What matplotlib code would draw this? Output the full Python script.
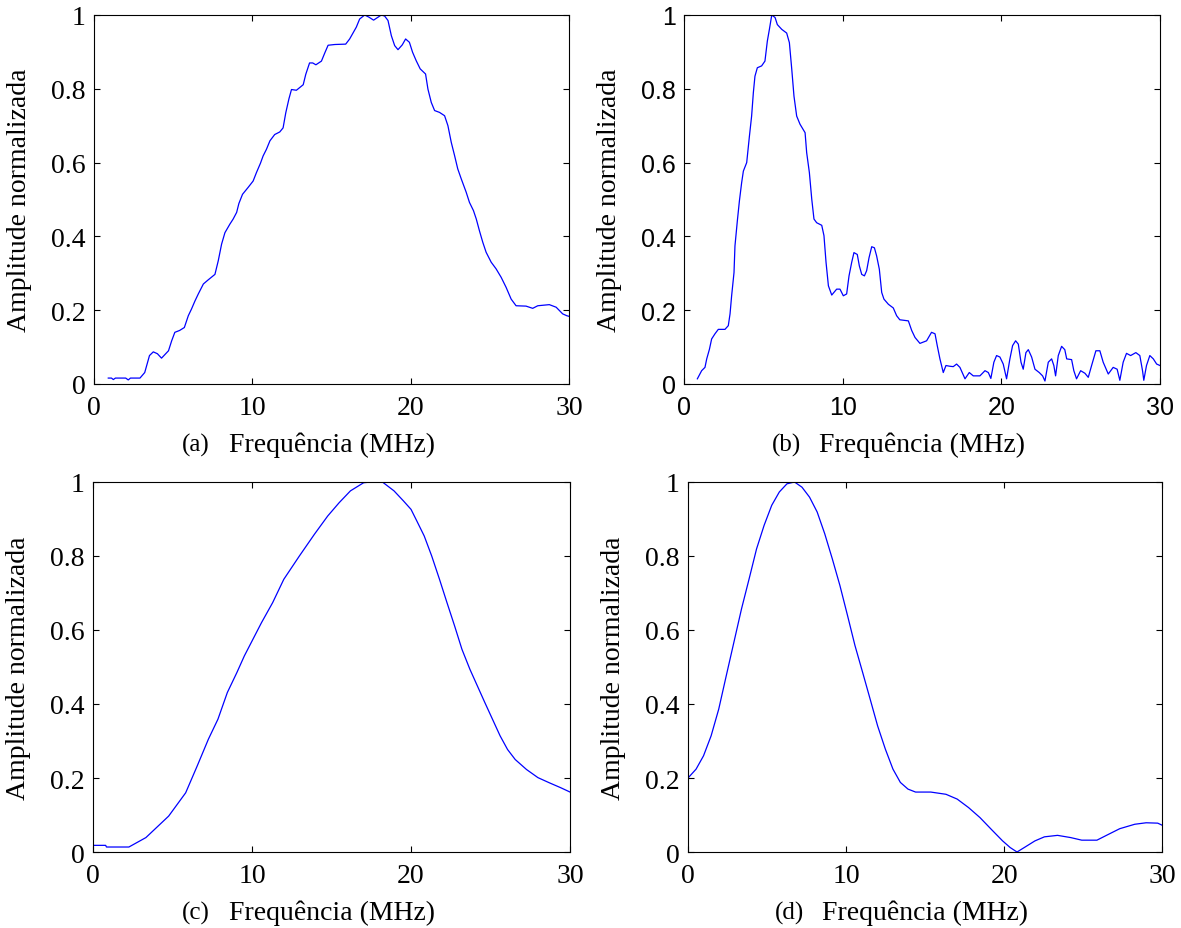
import numpy as np
import matplotlib.pyplot as plt

# (a) espectro medido
freq_a = [0.9, 1.1, 1.22, 1.35, 2.0, 2.16, 2.3, 2.9, 3.2, 3.5, 3.74, 4.0, 4.26, 4.7, 4.9, 5.1, 5.4, 5.7,
          5.95, 6.15, 6.37, 6.58, 6.9, 7.2, 7.63, 7.84, 8.05, 8.26, 8.57, 8.78, 9.0, 9.14, 9.37,
          9.73, 10.04, 10.25, 10.5, 10.67, 10.88, 11.1, 11.4, 11.72, 11.93, 12.1, 12.3, 12.46,
          12.77, 13.2, 13.36, 13.6, 13.8, 14.0, 14.35, 14.56, 14.77, 15.2, 15.88, 16.13, 16.34,
          16.55, 16.76, 17.08, 17.35, 17.64, 17.92, 18.13, 18.34, 18.55, 18.76, 18.97, 19.18,
          19.45, 19.66, 19.9, 20.1, 20.33, 20.58, 20.92, 21.07, 21.28, 21.49, 21.8, 22.12, 22.33,
          22.54, 22.75, 22.95, 23.17, 23.48, 23.69, 23.94, 24.12, 24.32, 24.53, 24.74, 25.06,
          25.37, 25.69, 26.0, 26.32, 26.63, 27.26, 27.68, 28.0, 28.73, 29.16, 29.57, 29.83, 30.0]
amp_a = [0.016, 0.016, 0.012, 0.016, 0.016, 0.011, 0.016, 0.016, 0.031, 0.077, 0.087, 0.082, 0.070,
         0.090, 0.117, 0.140, 0.145, 0.153, 0.185, 0.203, 0.225, 0.244, 0.271, 0.282, 0.297,
         0.334, 0.379, 0.410, 0.433, 0.447, 0.465, 0.489, 0.514, 0.533, 0.550, 0.573, 0.598,
         0.618, 0.636, 0.659, 0.676, 0.683, 0.694, 0.735, 0.773, 0.798, 0.796, 0.811, 0.839,
         0.870, 0.870, 0.865, 0.875, 0.897, 0.918, 0.920, 0.921, 0.935, 0.951, 0.967, 0.989,
         1.0, 0.994, 0.986, 0.994, 1.0, 0.997, 0.985, 0.944, 0.917, 0.906, 0.919, 0.935, 0.926,
         0.899, 0.876, 0.854, 0.840, 0.799, 0.763, 0.741, 0.736, 0.727, 0.700, 0.655, 0.619,
         0.583, 0.556, 0.520, 0.492, 0.470, 0.447, 0.415, 0.384, 0.357, 0.330, 0.312, 0.289,
         0.262, 0.230, 0.212, 0.211, 0.205, 0.212, 0.215, 0.208, 0.190, 0.185, 0.183]

# (b) espectro medido
freq_b = [0.84, 1.11, 1.32, 1.43, 1.6, 1.74, 1.95, 2.16, 2.58, 2.79, 2.9, 3.0, 3.15, 3.21, 3.36,
          3.49, 3.63, 3.74, 3.95, 4.12, 4.26, 4.37, 4.47, 4.62, 4.89, 5.1, 5.25, 5.38, 5.53,
          5.74, 5.88, 6.16, 6.47, 6.64, 6.79, 6.93, 7.1, 7.31, 7.63, 7.73, 7.9, 8.05, 8.19,
          8.36, 8.68, 8.82, 8.95, 9.1, 9.31, 9.62, 9.83, 10.04, 10.25, 10.4, 10.57, 10.71,
          10.92, 11.05, 11.2, 11.37, 11.51, 11.66, 11.83, 12.0, 12.14, 12.31, 12.46, 12.6,
          12.88, 13.19, 13.4, 13.6, 14.14, 14.35, 14.56, 14.87, 15.29, 15.6, 15.82, 15.96,
          16.13, 16.34, 16.51, 16.76, 16.97, 17.18, 17.39, 17.71, 17.98, 18.23, 18.65, 18.97,
          19.18, 19.34, 19.53, 19.7, 19.91, 20.12, 20.33, 20.54, 20.71, 20.9, 21.07, 21.24,
          21.38, 21.55, 21.7, 21.91, 22.12, 22.39, 22.6, 22.75, 22.96, 23.17, 23.31, 23.42,
          23.59, 23.8, 24.0, 24.12, 24.43, 24.57, 24.74, 25.0, 25.27, 25.48, 25.69, 25.96,
          26.21, 26.42, 26.74, 27.05, 27.3, 27.47, 27.68, 27.89, 28.15, 28.48, 28.73, 28.9,
          28.98, 29.15, 29.36, 29.58, 29.79, 30.0]
amp_b = [0.014, 0.036, 0.045, 0.068, 0.094, 0.122, 0.136, 0.148, 0.148, 0.158, 0.190, 0.239,
         0.302, 0.374, 0.442, 0.496, 0.545, 0.577, 0.600, 0.671, 0.726, 0.790, 0.834, 0.857,
         0.862, 0.875, 0.929, 0.961, 1.0, 0.993, 0.974, 0.961, 0.951, 0.925, 0.853, 0.780,
         0.726, 0.704, 0.681, 0.627, 0.573, 0.501, 0.447, 0.437, 0.430, 0.402, 0.330, 0.266,
         0.241, 0.257, 0.257, 0.239, 0.244, 0.293, 0.330, 0.356, 0.351, 0.320, 0.297, 0.293,
         0.307, 0.342, 0.372, 0.369, 0.347, 0.311, 0.248, 0.230, 0.216, 0.206, 0.185, 0.174,
         0.171, 0.145, 0.126, 0.110, 0.117, 0.140, 0.136, 0.104, 0.068, 0.031, 0.050, 0.048,
         0.047, 0.054, 0.045, 0.014, 0.031, 0.022, 0.022, 0.036, 0.031, 0.015, 0.059, 0.077,
         0.073, 0.054, 0.014, 0.068, 0.104, 0.117, 0.108, 0.059, 0.040, 0.085, 0.093, 0.073,
         0.040, 0.031, 0.022, 0.008, 0.059, 0.068, 0.050, 0.022, 0.077, 0.102, 0.093, 0.068,
         0.066, 0.036, 0.014, 0.036, 0.029, 0.018, 0.050, 0.090, 0.090, 0.059, 0.027, 0.045,
         0.040, 0.010, 0.059, 0.083, 0.077, 0.085, 0.077, 0.036, 0.010, 0.050, 0.077, 0.068,
         0.054, 0.050]

# (c) espectro simulado
freq_c = [0.0, 0.8, 0.85, 2.26, 3.33, 4.76, 5.83, 6.55, 7.26, 7.86, 8.45, 9.05, 9.52, 10.0, 10.6,
          11.3, 12.0, 12.98, 13.93, 14.76, 15.48, 16.19, 17.02, 17.5, 18.2, 18.93, 19.52, 20.0,
          20.36, 20.83, 21.3, 21.79, 22.26, 22.74, 23.2, 23.7, 24.17, 24.64, 25.12, 25.6,
          26.07, 26.55, 27.26, 27.98, 28.7, 29.4, 30.0]
amp_c = [0.018, 0.018, 0.0135, 0.0135, 0.039, 0.097, 0.160, 0.232, 0.305, 0.359, 0.431, 0.485,
         0.530, 0.570, 0.620, 0.674, 0.737, 0.800, 0.859, 0.908, 0.944, 0.976, 0.998, 1.0, 1.0,
         0.976, 0.949, 0.926, 0.895, 0.854, 0.800, 0.737, 0.674, 0.611, 0.548, 0.494, 0.449,
         0.404, 0.359, 0.314, 0.277, 0.250, 0.223, 0.201, 0.187, 0.174, 0.162]

# (d) espectro simulado
freq_d = [0.0, 0.53, 1.0, 1.48, 1.96, 2.44, 2.92, 3.4, 3.88, 4.35, 4.83, 5.31, 5.79, 6.27, 6.75,
          7.22, 7.7, 8.18, 8.66, 9.14, 9.62, 10.1, 10.57, 11.05, 11.53, 12.0, 12.49, 12.97,
          13.44, 13.92, 14.4, 15.36, 16.32, 17.03, 17.75, 18.47, 19.19, 19.9, 20.38, 20.81,
          21.34, 21.94, 22.54, 23.37, 24.2, 24.9, 25.86, 26.6, 27.3, 28.25, 28.97, 29.7, 30.0]
amp_d = [0.199, 0.224, 0.260, 0.314, 0.386, 0.477, 0.567, 0.657, 0.738, 0.819, 0.883, 0.937,
         0.973, 0.995, 1.0, 0.986, 0.959, 0.919, 0.860, 0.792, 0.720, 0.639, 0.558, 0.486,
         0.413, 0.341, 0.278, 0.224, 0.188, 0.170, 0.162, 0.162, 0.156, 0.143, 0.120, 0.093,
         0.061, 0.030, 0.012, 0.0, 0.014, 0.030, 0.041, 0.045, 0.039, 0.032, 0.032, 0.048,
         0.063, 0.075, 0.079, 0.078, 0.072]

panels = [('(a)', freq_a, amp_a), ('(b)', freq_b, amp_b),
          ('(c)', freq_c, amp_c), ('(d)', freq_d, amp_d)]
positions = [[0.0796, 0.5856, 0.4026, 0.3972], [0.5792, 0.5856, 0.4030, 0.3972],
             [0.0787, 0.0818, 0.4040, 0.3983], [0.5823, 0.0818, 0.4020, 0.3983]]

serif = 'Liberation Serif'
fig = plt.figure(figsize=(11.81, 9.29), dpi=100)

for (tag, f, a), pos in zip(panels, positions):
    ax = fig.add_axes(pos)
    ax.plot(f, a, color='#0000ff', linewidth=0.9)
    ax.set_xlim(0, 30)
    ax.set_ylim(0, 1)
    ax.set_xticks([0, 10, 20, 30])
    ax.set_yticks([0, 0.2, 0.4, 0.6, 0.8, 1])
    ax.set_yticklabels(['0', '0.2', '0.4', '0.6', '0.8', '1'])
    ax.tick_params(direction='in', top=True, right=True, length=4, width=0.8,
                   labelsize=20)
    ax.tick_params(axis='x', pad=8)
    ax.tick_params(axis='y', pad=6)
    # (b) tem os números dos eixos em fonte sem serifa
    tick_font = 'Liberation Sans' if tag == '(b)' else serif
    for lab in ax.get_xticklabels() + ax.get_yticklabels():
        lab.set_fontfamily(tick_font)
        if tag == '(b)':
            lab.set_fontsize(18)
    for sp in ax.spines.values():
        sp.set_linewidth(0.8)
    ax.set_ylabel('Amplitude normalizada', fontsize=20, fontfamily=serif)
    ax.yaxis.set_label_coords(-0.13, 0.5)
    ax.set_xlabel('Frequência (MHz)', fontsize=20, fontfamily=serif, va='center')
    ax.xaxis.set_label_coords(0.5, -0.163)
    ax.text(0.215, -0.163, tag, transform=ax.transAxes, ha='center', va='center',
            fontsize=18, fontfamily=serif)

fig.savefig('out.png', dpi=100)
